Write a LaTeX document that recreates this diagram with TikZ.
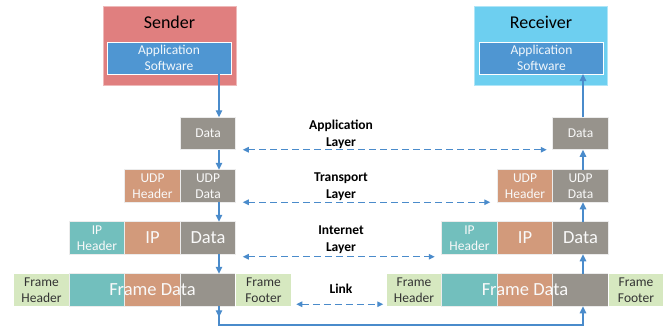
\documentclass[tikz,border=0pt]{standalone}
\usepackage{fontspec}
\setmainfont{Carlito}
\usetikzlibrary{arrows.meta}
\definecolor{senderred}{HTML}{E07F7F}
\definecolor{receiverblue}{HTML}{6DCFF0}
\definecolor{appblue}{HTML}{4F96D2}
\definecolor{datagray}{HTML}{97938C}
\definecolor{udporange}{HTML}{D29A7B}
\definecolor{ipteal}{HTML}{72BFBD}
\definecolor{framegreen}{HTML}{D6E8C0}
\definecolor{flowblue}{HTML}{4A8BCB}

\begin{document}
\begin{tikzpicture}[x=1pt,y=-1pt]
        \tikzstyle{every node}=[inner sep=0pt, outer sep=0pt]
        \tikzstyle{host}=[minimum width=133pt, minimum height=79pt, line width=0.8pt]
        \tikzstyle{appbox}=[fill=appblue, draw=white, line width=1pt, minimum width=124pt, minimum height=32pt, text=white!92!appblue, align=center, font=\fontsize{13.5}{16}\selectfont]
        \tikzstyle{cell}=[draw=white!85!gray, line width=0.8pt, minimum width=55.5pt, minimum height=32.5pt, text=white!95!gray, align=center, font=\fontsize{13.5}{16}\selectfont]
        \tikzstyle{datacell}=[cell, fill=datagray]
        \tikzstyle{udpcell}=[cell, fill=udporange]
        \tikzstyle{ipcell}=[cell, fill=ipteal]
        \tikzstyle{framecell}=[cell, fill=framegreen, draw=white, text=black!80]
        \tikzstyle{bigtext}=[text=white!95!gray, font=\fontsize{18.5}{20}\selectfont]
        \tikzstyle{layerlabel}=[align=center, font=\bfseries\fontsize{13.5}{16.5}\selectfont]
        \tikzstyle{flow}=[draw=flowblue, line width=1.4pt, -{Triangle[length=7pt,width=6.5pt]}]
        \tikzstyle{peer}=[draw=flowblue, line width=1.2pt, dash pattern=on 7pt off 4pt, {Triangle[length=6pt,width=5.5pt]}-{Triangle[length=6pt,width=5.5pt]}]

        \useasboundingbox (0,0) rectangle (664,330);

% hosts
        \node[host, fill=senderred, draw=senderred!55!white] (sender) at (169.5,45.5) {};
        \node[font=\fontsize{18}{20}\selectfont] (sendername) at (169.5,22) {Sender};
        \node[appbox] (sapp) at (169,58) {Application\\Software};
        \node[host, fill=receiverblue, draw=receiverblue!55!white] (receiver) at (541,45.5) {};
        \node[font=\fontsize{18}{20}\selectfont] (receivername) at (541,22) {Receiver};
        \node[appbox] (rapp) at (541.5,58) {Application\\Software};

% sender stack
        \node[datacell] (sdata) at (208,133.5) {Data};
        \node[udpcell] (sudph) at (152.5,186) {UDP\\Header};
        \node[datacell] (sudpd) at (208,186) {UDP\\Data};
        \node[ipcell] (siph) at (97,238) {IP\\Header};
        \node[udpcell, bigtext] (sip) at (152.5,238) {IP};
        \node[datacell, bigtext] (sipd) at (208,238) {Data};
        \node[framecell] (sfh) at (41.5,290) {Frame\\Header};
        \node[ipcell] (sfteal) at (97,290) {};
        \node[udpcell] (sforange) at (152.5,290) {};
        \node[datacell] (sfgray) at (208,290) {};
        \node[framecell] (sfoot) at (263.5,290) {Frame\\Footer};
        \node[bigtext] (sframe) at (152.5,290) {Frame Data};

% receiver stack
        \node[datacell] (rdata) at (580.5,133.5) {Data};
        \node[udpcell] (rudph) at (525,186) {UDP\\Header};
        \node[datacell] (rudpd) at (580.5,186) {UDP\\Data};
        \node[ipcell] (riph) at (469.5,238) {IP\\Header};
        \node[udpcell, bigtext] (rip) at (525,238) {IP};
        \node[datacell, bigtext] (ripd) at (580.5,238) {Data};
        \node[framecell] (rfh) at (414,290) {Frame\\Header};
        \node[ipcell] (rfteal) at (469.5,290) {};
        \node[udpcell] (rforange) at (525,290) {};
        \node[datacell] (rfgray) at (580.5,290) {};
        \node[framecell] (rfoot) at (636,290) {Frame\\Footer};
        \node[bigtext] (rframe) at (525,290) {Frame Data};

% layer names
        \node[layerlabel] (lapp) at (341,134.5) {Application\\Layer};
        \node[layerlabel] (ltrans) at (341,186.5) {Transport\\Layer};
        \node[layerlabel] (linet) at (341,239.5) {Internet\\Layer};
        \node[layerlabel] (llink) at (341,289) {Link};

% data flow
        \coordinate (sx) at (219,0);
        \coordinate (rx) at (583,0);
        \coordinate (bot) at (400,325);
        \draw[flow] (sapp.south -| sx) -- (sdata.north -| sx);
        \draw[flow] (sdata.south -| sx) -- (sudpd.north -| sx);
        \draw[flow] (sudpd.south -| sx) -- (sipd.north -| sx);
        \draw[flow] (sipd.south -| sx) -- (sfgray.north -| sx);
        \draw[flow] (sfgray.south -| sx) |- (bot) -| (rfgray.south -| rx);
        \draw[flow] (sfgray.south -| sx) -- ++(0,11);
        \draw[flow] (rfgray.north -| rx) -- (ripd.south -| rx);
        \draw[flow] (ripd.north -| rx) -- (rudpd.south -| rx);
        \draw[flow] (rudpd.north -| rx) -- (rdata.south -| rx);
        \draw[flow] (rdata.north -| rx) -- (rapp.south -| rx);

% peer layers
        \draw[peer] ([xshift=7pt]sdata.south east) -- ([xshift=-6pt]rdata.south west);
        \draw[peer] ([xshift=7pt]sudpd.south east) -- ([xshift=-7pt]rudph.south west);
        \draw[peer] ([xshift=7pt,yshift=-2.5pt]sipd.south east) -- ([xshift=-7pt,yshift=-2.5pt]riph.south west);
        \draw[peer] ([xshift=5pt,yshift=2pt]sfoot.south east) -- ([xshift=-3pt,yshift=2pt]rfh.south west);

    \end{tikzpicture}
\end{document}
